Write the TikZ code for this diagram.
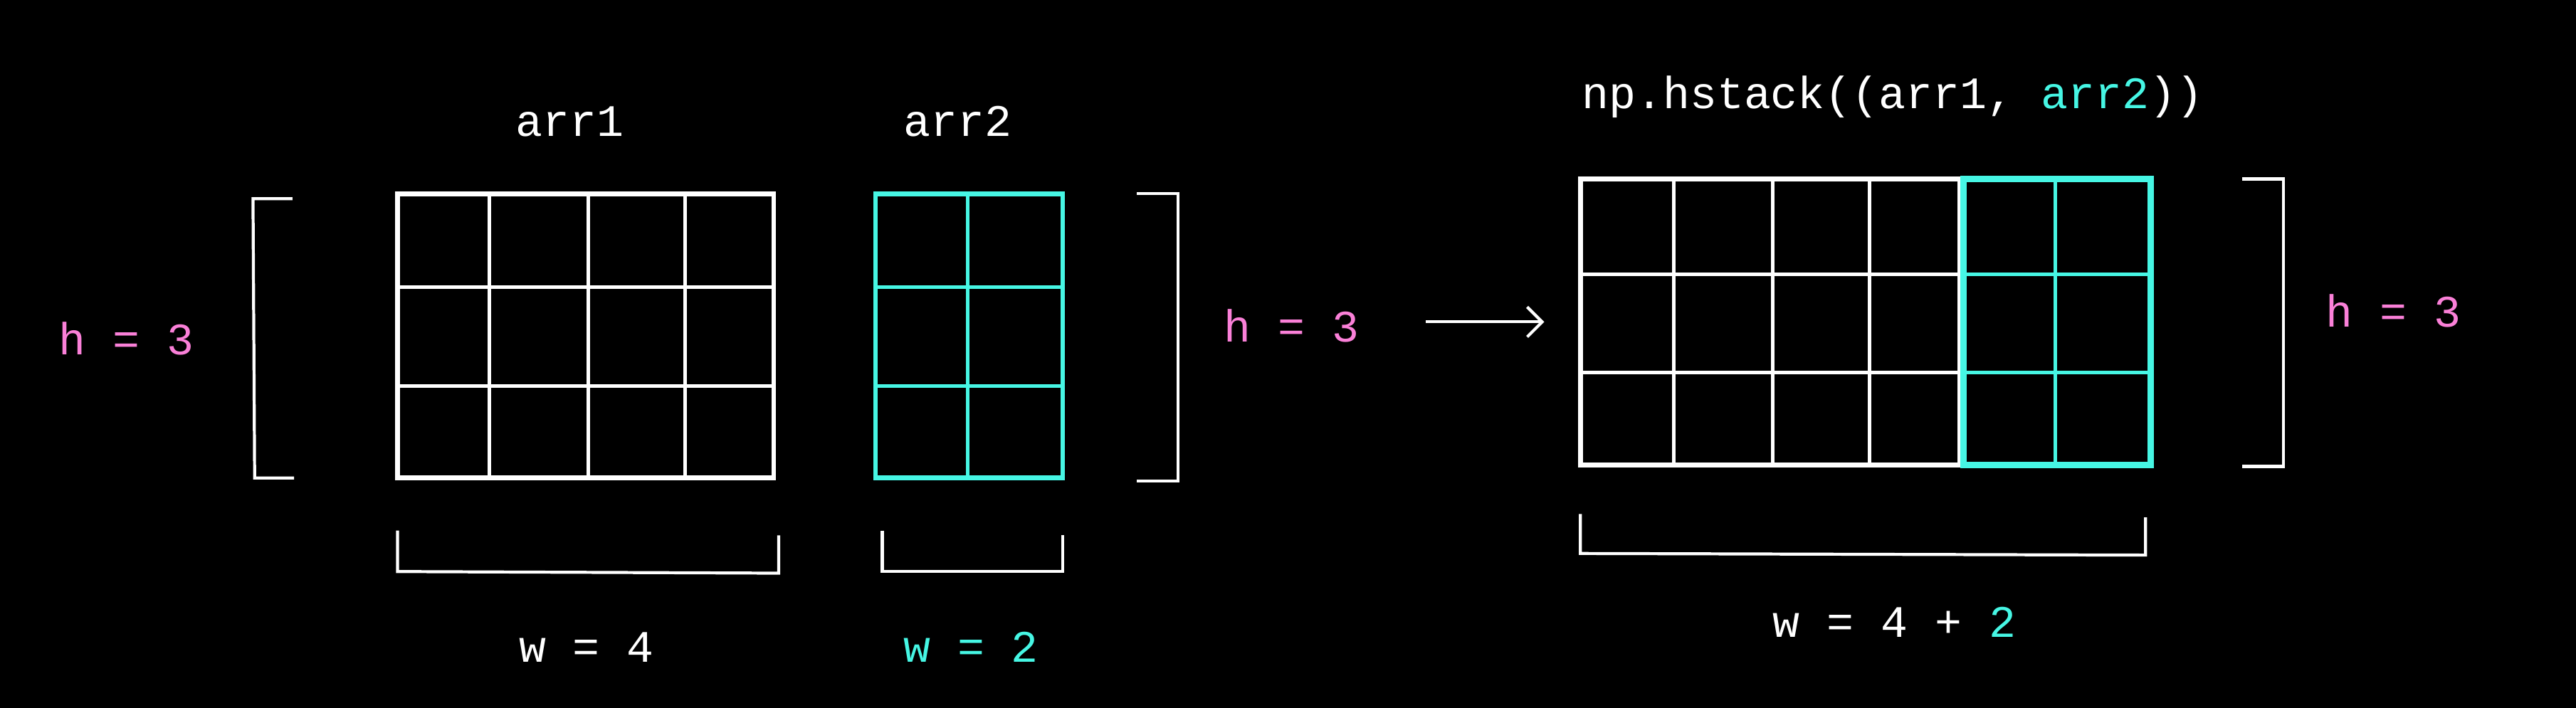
\documentclass[tikz,border=0pt]{standalone}
\usepackage{fontspec}
\usepackage{xcolor}
\usepackage{tikz}
\usetikzlibrary{arrows.meta}
\usetikzlibrary{backgrounds}
\setmonofont{Liberation Mono}
\pgfdeclarelayer{edgelayer}
\pgfdeclarelayer{nodelayer}
\pgfsetlayers{background,edgelayer,nodelayer,main}
\definecolor{aqua}{RGB}{70,246,228}
\definecolor{pinkish}{RGB}{250,128,216}
\tikzstyle{none}=[inner sep=0mm]
\tikzstyle{lbl}=[inner sep=0mm,anchor=base,text=white,font=\fontsize{18}{21}\selectfont\ttfamily]
\tikzstyle{hlbl}=[lbl,text=pinkish]
\tikzstyle{clbl}=[lbl,text=aqua]
\tikzstyle{outer}=[draw=white,line width=1.8pt]
\tikzstyle{inner}=[draw=white,line width=1.4pt]
\tikzstyle{couter}=[outer,draw=aqua]
\tikzstyle{cinner}=[inner,draw=aqua]
\tikzstyle{brace}=[draw=white,line width=1.2pt]

\begin{document}
\begin{tikzpicture}[x=0.2308mm,y=-0.2308mm]
	\begin{pgfonlayer}{background}
		\fill[black] (0, 0) rectangle (1568, 431);
	\end{pgfonlayer}
	\begin{pgfonlayer}{nodelayer}
		\node [style=lbl] (t1) at (347, 83) {arr1};
		\node [style=lbl] (t2) at (583, 83) {arr2};
		\node [style=lbl] (call) at (1152, 66) {np.hstack((arr1, \textcolor{aqua}{arr2}))};
		\node [style=hlbl] (hl) at (77, 216) {h = 3};
		\node [style=hlbl] (hm) at (786, 208) {h = 3};
		\node [style=hlbl] (hr) at (1457, 199) {h = 3};
		\node [style=lbl] (w1) at (357, 403) {w = 4};
		\node [style=clbl] (w2) at (591, 403) {w = 2};
		\node [style=lbl] (wsum) at (1153, 388) {w = 4 + \textcolor{aqua}{2}};
		\node [style=none] (a0) at (868, 196) {};
		\node [style=none] (a1) at (940, 196) {};
	\end{pgfonlayer}
	\begin{pgfonlayer}{edgelayer}
		% arr1
		\draw[style=inner] (298, 118) -- (298, 291) (358, 118) -- (358, 291) (417, 118) -- (417, 291);
		\draw[style=inner] (242, 175) -- (471, 175) (242, 235) -- (471, 235);
		\draw[style=outer] (242, 118) rectangle (471, 291);
		% arr2
		\draw[style=cinner] (589, 118) -- (589, 291);
		\draw[style=cinner] (533, 175) -- (647, 175) (533, 235) -- (647, 235);
		\draw[style=couter] (533, 118) rectangle (647, 291);
		% stacked
		\draw[style=inner] (1019, 109) -- (1019, 283) (1079, 109) -- (1079, 283) (1138, 109) -- (1138, 283);
		\draw[style=inner] (962, 167) -- (1193, 167) (962, 227) -- (1193, 227);
		\draw[style=outer,line width=2pt] (962, 109) rectangle (1193, 283);
		\draw[style=cinner] (1251, 109) -- (1251, 283);
		\draw[style=cinner] (1195, 167) -- (1309, 167) (1195, 227) -- (1309, 227);
		\draw[style=couter,line width=2.6pt] (1195, 109) rectangle (1309, 283);
		% brackets
		\draw[style=brace] (178, 121) -- (154, 121) -- (155, 291) -- (179, 291);
		\draw[style=brace] (692, 118) -- (717, 118) -- (717, 293) -- (692, 293);
		\draw[style=brace] (1365, 109) -- (1390, 109) -- (1390, 284) -- (1365, 284);
		\draw[style=brace] (242, 323) -- (242, 348) -- (474, 349) -- (474, 326);
		\draw[style=brace] (537, 323) -- (537, 348) -- (647, 348) -- (647, 326);
		\draw[style=brace] (962, 313) -- (962, 337) -- (1306, 338) -- (1306, 315);
		\draw[style=brace,-{Straight Barb[length=6pt,width=12pt]}] (a0.center) to (a1.center);
	\end{pgfonlayer}
\end{tikzpicture}
\end{document}
